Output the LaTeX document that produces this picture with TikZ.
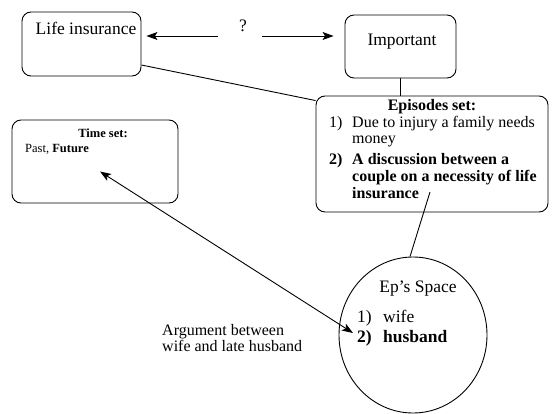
\documentclass[tikz,border=0pt]{standalone}
\usepackage{fontspec}
\setmainfont{Liberation Serif}
\usetikzlibrary{arrows.meta,shapes.geometric}
\tikzset{
  rbox/.style={draw,rounded corners=9pt,line width=0.9pt,inner sep=0pt},
  conn/.style={line width=0.9pt},
  tip/.tip={Stealth[length=11pt,width=8pt,inset=2.5pt]},
  arr/.style={line width=0.9pt,-tip},
  darr/.style={line width=0.9pt,tip-tip},
  big/.style={font=\fontsize{17.5}{20}\selectfont,inner sep=0pt,text height=.7em,text depth=.2em},
  arg/.style={font=\fontsize{16}{19}\selectfont,inner sep=0pt,text height=.7em,text depth=.2em},
  mid/.style={font=\fontsize{16}{18}\selectfont,inner sep=0pt,text height=.7em,text depth=.2em},
  sml/.style={font=\fontsize{12.5}{15}\selectfont,inner sep=0pt,text height=.7em,text depth=.2em},
}
\begin{document}
\begin{tikzpicture}[x=1pt,y=-1pt]
\useasboundingbox (0,0) rectangle (553,414);
% boxes
\node[rbox,minimum width=119pt,minimum height=64pt] (li) at (81.5,44) {};
\node[big] (lit) at (86,32) {Life insurance};
\node[rbox,minimum width=111pt,minimum height=63pt] (im) at (400.5,46.5) {};
\node[big] (imt) at (402,43) {Important};
\node[rbox,minimum width=232pt,minimum height=116pt] (ep) at (432,154) {};
\node[rbox,minimum width=166pt,minimum height=83pt] (ts) at (95,161.5) {};
\node[draw,ellipse,line width=0.9pt,minimum width=148pt,minimum height=156pt,inner sep=0pt] (el) at (413,335) {};
% question mark and arrows
\node[big] (q) at (243,29) {?};
\coordinate (qL) at (218,36);
\coordinate (qR) at (262,36);
\draw[arr,shorten >=5pt] (qL) -- (li.east |- qL);
\draw[arr,shorten >=11pt] (qR) -- (im.west |- qR);
% connectors
\draw[conn] (im.south) -- (im.south |- ep.north);
\draw[conn] ([shift={(0,21)}]li.east) -- ([yshift=-5pt]ep.north west);
\draw[conn] ([shift={(-2,38)}]ep.center) -- ([xshift=-3pt]el.north);
\coordinate (a1) at ([shift={(5,10)}]ts.center);
\coordinate (a2) at ([shift={(-60,-2)}]el.center);
\draw[darr] (a1) -- (a2);
% episodes text
\node[mid] (ept) at (432,108.5) {\bfseries Episodes set:};
\node[mid,anchor=west] (e1n) at (329,125) {1)};
\node[mid,anchor=west] (e1a) at (352,125) {Due to injury a family needs};
\node[mid,anchor=west] (e1b) at (352,141) {money};
\node[mid,anchor=west] (e2n) at (329,162) {\bfseries 2)};
\node[mid,anchor=west] (e2a) at (352,162) {\bfseries A discussion between a};
\node[mid,anchor=west] (e2b) at (352,179) {\bfseries couple on a necessity of life};
\node[mid,anchor=west] (e2c) at (352,196) {\bfseries insurance};
% time set text
\node[sml] (tst) at (103,135) {\bfseries Time set:};
\node[sml,anchor=west] (tsv) at (25,150) {Past, \textbf{Future}};
% argument text
\node[arg,anchor=west] (ar1) at (162,333) {Argument between};
\node[arg,anchor=west] (ar2) at (162,349) {wife and late husband};
% ellipse text
\node[big] (est) at (418,290) {Ep’s Space};
\node[big,anchor=west] (w1) at (357,320) {1)};
\node[big,anchor=west] (w2) at (383,320) {wife};
\node[big,anchor=west] (h1) at (357,340) {\bfseries 2)};
\node[big,anchor=west] (h2) at (383,340) {\bfseries husband};
\end{tikzpicture}
\end{document}
